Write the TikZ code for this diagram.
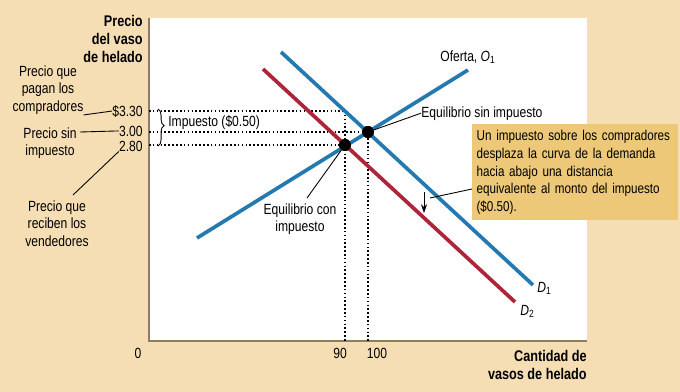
\documentclass[tikz,border=0pt]{standalone}
\usepackage{fontspec}
\setmainfont{Liberation Sans}[FakeStretch=0.82]
\usetikzlibrary{decorations.pathreplacing,arrows.meta}
\definecolor{fondo}{HTML}{F5DEB4}
\definecolor{caja}{HTML}{ECC878}
\definecolor{azul}{HTML}{2479B0}
\definecolor{rojo}{HTML}{AE2439}
\definecolor{eje}{HTML}{8C7D64}
\tikzset{
  curva/.style={line width=2.1pt},
  punteado/.style={line width=0.9pt, dash pattern=on 0.9pt off 1.3pt},
  guia/.style={line width=0.5pt},
  punto/.style={circle, inner sep=2.4pt, fill},
  txt/.style={inner sep=0pt, font=\fontsize{8.4}{10.1}\selectfont},
  negr/.style={inner sep=0pt, font=\fontsize{8.8}{10.3}\selectfont\bfseries},
}
\begin{document}
\begin{tikzpicture}[x=0.02cm,y=-0.02cm]
\fill[fondo] (0,0) rectangle (680,392);
\useasboundingbox (0,0) rectangle (680,392);
\fill[white] (149,18) rectangle (587,341);
\coordinate (ytop) at (149,18);
\coordinate (org) at (149,341);
\coordinate (xend) at (587,341);
\draw[eje, line width=1.1pt] (ytop) -- (org) -- (xend);
\coordinate (p33) at (149,111);
\coordinate (p30) at (149,132);
\coordinate (p28) at (149,145);
\coordinate (q90) at (345,341);
\coordinate (q100) at (368,341);
\coordinate (d1q90) at (345,111);
\node[punto] (eq1) at (368,132){};
\node[punto] (eq2) at (345,145){};
\draw[punteado](p33) -- (d1q90);
\draw[punteado](d1q90) -- (q90);
\draw[punteado](p30) -- (eq1);
\draw[punteado](eq1) -- (q100);
\draw[punteado](p28) -- (eq2);
\coordinate (o1a) at (197,238);
\coordinate (o1b) at (468,70);
\coordinate (d1a) at (281,52);
\coordinate (d1b) at (533,285);
\coordinate (d2a) at (263,69);
\coordinate (d2b) at (515,302);
\draw[curva, rojo](d2a) -- (d2b);
\draw[curva, azul](d1a) -- (d1b);
\draw[curva, azul](o1a) -- (o1b);
\node[punto] at (eq1){};
\node[punto] at (eq2){};
\node[txt, anchor=base west] (lo1) at (440,61){Oferta, \textit{O}\textsubscript{1}};
\node[txt, anchor=base west] (ld1) at (537,292){\textit{D}\textsubscript{1}};
\node[txt, anchor=base west] (ld2) at (520,315){\textit{D}\textsubscript{2}};
\node[txt, anchor=base west] (lsin) at (421,117){Equilibrio sin impuesto};
\draw[guia](eq1) -- (lsin.west);
\node[txt, align=center, anchor=north] (lcon) at (300,203){Equilibrio con\\impuesto};
\draw[guia](eq2) -- ([shift={(7,-5)}]lcon.north);
\draw[guia, decorate, decoration={brace, amplitude=3.5pt, aspect=0.45}] (158,109) -- (158,146);
\node[txt, anchor=base west] (limp) at (168,126){Impuesto (\$0.50)};
\node[txt, anchor=base east] (v33) at (143,116){\$3.30};
\node[txt, anchor=base east] (v30) at (143,136){3.00};
\node[txt, anchor=base east] (v28) at (143,151){2.80};
\node[txt, align=center, anchor=north] (lpag) at (48,65){Precio que\\pagan los\\compradores};
\draw[guia](lpag.south east) -- (v33.west);
\node[txt, align=center, anchor=north] (lsi) at (50,127){Precio sin\\impuesto};
\draw[guia](80,132) -- (v30.west);
\node[txt, align=center, anchor=north] (lrec) at (57,200){Precio que\\reciben los\\vendedores};
\draw[guia](v28.south west) -- ([shift={(16,-5)}]lrec.north);
\node[negr, align=right, anchor=north east] (ly) at (143,15){Precio\\del vaso\\de helado};
\node[negr, align=right, anchor=north east] (lx) at (587,350){Cantidad de\\vasos de helado};
\node[txt, anchor=base] (t0) at (138,358){0};
\node[txt, anchor=base] (t90) at (340,358){90};
\node[txt, anchor=base] (t100) at (377,358){100};
\node[txt, font=\fontsize{8.1}{10.1}\selectfont, fill=caja, align=left, anchor=north west, minimum width=4.12cm, minimum height=1.92cm, text width=3.95cm, inner xsep=0.085cm, inner ysep=0.1cm] (nota) at (472,124){Un impuesto sobre los compradores\\desplaza la curva de la demanda\\hacia abajo una distancia\\equivalente al monto del impuesto\\(\$0.50).};
\coordinate (fl1) at (424,192);
\coordinate (fl2) at (424,213);
\draw[guia, -{Stealth[length=5pt, width=3.5pt]}](fl1) -- (fl2);
\draw[guia](nota.west |- 0,189) -- (430,198);
\end{tikzpicture}
\end{document}
